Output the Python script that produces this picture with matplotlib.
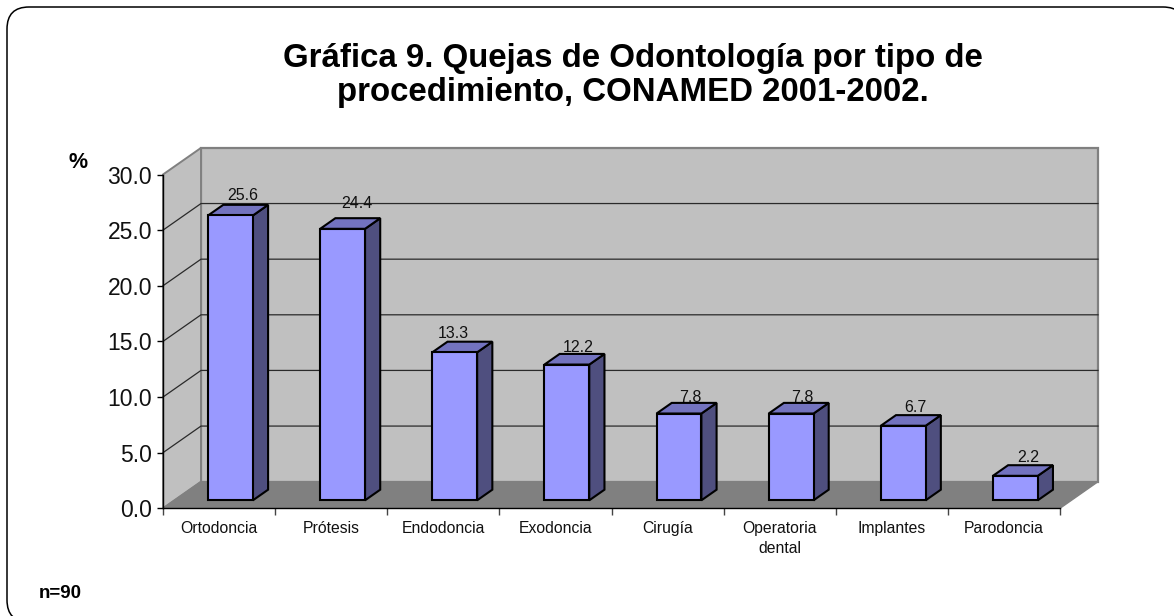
import matplotlib
matplotlib.use("Agg")
import matplotlib.pyplot as plt
from matplotlib.patches import Polygon, FancyBboxPatch

plt.rcParams['font.family'] = ['Liberation Sans', 'DejaVu Sans']

categories = ["Ortodoncia", "Prótesis", "Endodoncia", "Exodoncia", "Cirugía",
              "Operatoria\ndental", "Implantes", "Parodoncia"]
values = [25.6, 24.4, 13.3, 12.2, 7.8, 7.8, 6.7, 2.2]
value_labels = ["25.6", "24.4", "13.3", "12.2", "7.8", "7.8", "6.7", "2.2"]
y_ticks = [0, 5, 10, 15, 20, 25, 30]

# small hand nudges for the value labels, in points
label_dx = [-2.5, -1.5, -12.5, -3.5, -3.5, -3.5, -3, -2.5]
label_dy = [1.5, 5, 0.5, -1, -1.5, -1.5, 0, 0]

W, H = 1174, 616
# front plane of the 3d box, in pixels
LEFT, RIGHT, TOP, BOTTOM = 163, 1060, 174.5, 508.3
YMAX = 30
N = len(categories)

# depth of the box, in data units
DX = 38 / ((RIGHT - LEFT) / N)
DY = 26.6 / ((BOTTOM - TOP) / YMAX)
BAR_W = 0.4


def pt(x, y, d=0.0):
    # point pushed back by d (0 front, 1 back wall)
    return (x + DX * d, y + DY * d)


fig = plt.figure(figsize=(W / 100, H / 100), dpi=100)
bg = fig.add_axes([0, 0, 1, 1])
bg.set_xlim(0, W)
bg.set_ylim(H, 0)
bg.axis("off")
# frame runs off the right and bottom of the picture
bg.add_patch(FancyBboxPatch((29, 29), 1134, 571, boxstyle="round,pad=22,rounding_size=22",
                            fc="white", ec="black", lw=1.1))

ax = fig.add_axes([LEFT / W, 1 - BOTTOM / H, (RIGHT - LEFT) / W, (BOTTOM - TOP) / H])
ax.set_xlim(0, N)
ax.set_ylim(0, YMAX)
ax.patch.set_alpha(0)
for s in ["top", "right"]:
    ax.spines[s].set_visible(False)
for s in ["left", "bottom"]:
    ax.spines[s].set_linewidth(1.0)
    ax.spines[s].set_zorder(6)

WALL = "#C0C0C0"
EDGE = "#808080"

# back wall, side wall, floor
ax.add_patch(Polygon([pt(0, 0, 1), pt(N, 0, 1), pt(N, YMAX, 1), pt(0, YMAX, 1)],
                     fc=WALL, ec=EDGE, lw=1.6, clip_on=False, zorder=1))
ax.add_patch(Polygon([pt(0, 0), pt(0, 0, 1), pt(0, YMAX, 1), pt(0, YMAX)],
                     fc=WALL, ec=EDGE, lw=1.4, clip_on=False, zorder=1))
ax.add_patch(Polygon([pt(0, 0), pt(N, 0), pt(N, 0, 1), pt(0, 0, 1)],
                     fc="#808080", ec=EDGE, lw=1, clip_on=False, zorder=1))

for t in y_ticks[1:-1]:
    xs = [pt(0, t)[0], pt(0, t, 1)[0], pt(N, t, 1)[0]]
    ys = [pt(0, t)[1], pt(0, t, 1)[1], pt(N, t, 1)[1]]
    ax.plot(xs, ys, color="#2a2a2a", lw=0.9, clip_on=False, zorder=2)

# bars
for i, v in enumerate(values):
    x0 = i + 0.5 - BAR_W / 2
    x1 = x0 + BAR_W
    d0, d1 = 0.3, 0.7
    ax.add_patch(Polygon([pt(x1, 0, d0), pt(x1, 0, d1), pt(x1, v, d1), pt(x1, v, d0)],
                         fc="#4F4F7F", ec="black", lw=1.5, clip_on=False, zorder=3))
    ax.add_patch(Polygon([pt(x0, v, d0), pt(x1, v, d0), pt(x1, v, d1), pt(x0, v, d1)],
                         fc="#7373BF", ec="black", lw=1.5, clip_on=False, zorder=3))
    ax.add_patch(Polygon([pt(x0, 0, d0), pt(x1, 0, d0), pt(x1, v, d0), pt(x0, v, d0)],
                         fc="#9999FF", ec="black", lw=1.5, clip_on=False, zorder=4))
    cx, cy = pt(i + 0.5, v, d1)
    ax.annotate(value_labels[i], (cx, cy), xytext=(0.5 + label_dx[i], label_dy[i]),
                textcoords="offset points", ha="center", va="bottom", fontsize=11.5,
                color="#111111", annotation_clip=False, zorder=5)

ax.set_yticks(y_ticks)
ax.set_yticklabels([f"{t:.1f}" for t in y_ticks], fontsize=16.5, color="#111111")
ax.tick_params(axis="y", length=4.3, width=1, pad=3.5)

ax.set_xticks(range(N + 1))
ax.set_xticklabels([])
ax.tick_params(axis="x", length=5, width=1, color="#444444")
for i, c in enumerate(categories):
    ax.annotate(c, (i + 0.5, 0), xytext=(0, -9.5), textcoords="offset points", ha="center",
                va="top", fontsize=11.3, color="#111111", annotation_clip=False,
                linespacing=1.35)

fig.text(633 / W, 1 - 58 / H, "Gráfica 9. Quejas de Odontología por tipo de",
         ha="center", va="center", fontsize=23.8, fontweight="bold", color="black")
fig.text(633 / W, 1 - 93 / H, "procedimiento, CONAMED 2001-2002.",
         ha="center", va="center", fontsize=23.8, fontweight="bold", color="black")
fig.text(78 / W, 1 - 163 / H, "%", ha="center", va="center", fontsize=15.5,
         fontweight="bold", color="black")
fig.text(39 / W, 1 - 593 / H, "n=90", ha="left", va="center", fontsize=13.5,
         fontweight="bold", color="black")

fig.savefig("out.png", dpi=100)
